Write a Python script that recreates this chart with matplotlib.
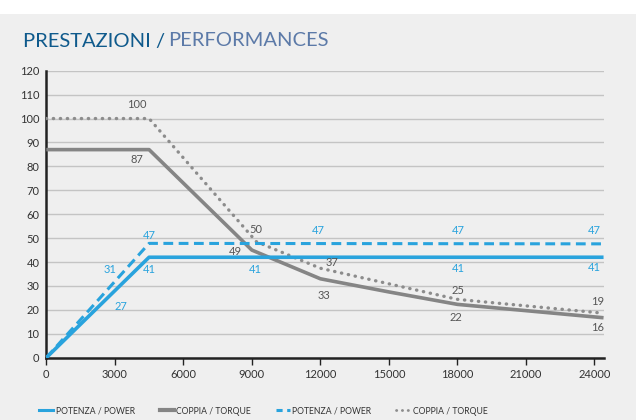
import matplotlib.pyplot as plt
from matplotlib.lines import Line2D
from matplotlib.patches import Rectangle

BLUE = "#29a3dd"
GREY = "#858585"
BG = "#efefef"

# curves (rpm, value)
power_x = [0, 4500, 24400]
power_y = [0, 42, 42]
torque_x = [0, 4500, 9000, 12000, 15000, 18000, 24400]
torque_y = [87, 87, 45, 33, 27.5, 22.3, 16.7]
power2_x = [0, 4500, 24400]
power2_y = [0, 47.8, 47.6]
torque2_x = [0, 4500, 9200, 12000, 18000, 24400]
torque2_y = [100, 100, 48.5, 37.4, 24.4, 18.6]

# value labels: (x, y, text, colour)
labels = [
    (3970, 105.7, "100", "g"), (3970, 82.7, "87", "g"),
    (4500, 51.3, "47", "b"), (2790, 36.7, "31", "b"),
    (4500, 36.7, "41", "b"), (3270, 21.6, "27", "b"),
    (9180, 53.4, "50", "g"), (8260, 44.6, "49", "g"),
    (9140, 37.0, "41", "b"), (11900, 53.0, "47", "b"),
    (12500, 39.6, "37", "g"), (12160, 26.2, "33", "g"),
    (18030, 53.0, "47", "b"), (18030, 37.5, "41", "b"),
    (18030, 28.3, "25", "g"), (17950, 17.0, "22", "g"),
    (24000, 53.0, "47", "b"), (24000, 37.8, "41", "b"),
    (24130, 23.3, "19", "g"), (24130, 12.5, "16", "g"),
]

legend_labels = ["POTENZA / POWER", "COPPIA / TORQUE", "POTENZA / POWER", "COPPIA / TORQUE"]

plt.rcParams["font.family"] = ["Lato", "DejaVu Sans"]

fig = plt.figure(figsize=(6.36, 4.2), dpi=100)
fig.patch.set_facecolor(BG)
fig.patches.append(Rectangle((0, 1 - 14 / 420), 1, 14 / 420, transform=fig.transFigure,
                             facecolor="white", edgecolor="none", zorder=0))

ax = fig.add_axes([46.3 / 636, 1 - 357.7 / 420, (604 - 46.3) / 636, (357.7 - 70.7) / 420])
ax.set_facecolor(BG)

ax.plot(power_x, power_y, color=BLUE, lw=2.6, solid_capstyle="butt", zorder=4)
ax.plot(torque_x, torque_y, color=GREY, lw=2.6, solid_capstyle="butt", zorder=3)
ax.plot(power2_x, power2_y, color=BLUE, lw=2.2, dashes=(3.2, 1.8), zorder=4)
ax.plot(torque2_x, torque2_y, color="#8c8c8c", lw=2.4, linestyle=(0, (0.1, 2.0)),
        dash_capstyle="round", zorder=3)

for x, y, t, c in labels:
    ax.text(x, y, t, ha="center", va="center", fontsize=8,
            color=BLUE if c == "b" else "#555555", zorder=5)

ax.set_xlim(0, 24420)
ax.set_ylim(0, 120)
ax.set_xticks(range(0, 24001, 3000))
ax.set_yticks(range(0, 121, 10))
ax.grid(axis="y", color="#c4c4c4", lw=1)
ax.set_axisbelow(True)
for s in ["top", "right"]:
    ax.spines[s].set_visible(False)
for s in ["left", "bottom"]:
    ax.spines[s].set_color("#222222")
    ax.spines[s].set_linewidth(1.8)
ax.tick_params(axis="x", length=5, width=1, color="#222222", labelsize=8, labelcolor="#333333", pad=3)
ax.tick_params(axis="y", length=0, labelsize=8, labelcolor="#333333", pad=5)

fig.text(23 / 636, 1 - 41 / 420, "PRESTAZIONI /", color="#0f5a8c", fontsize=14.5, va="center")
fig.text(168 / 636, 1 - 41 / 420, "PERFORMANCES", color="#5c7aa8", fontsize=14.5, va="center")

handles = [
    Line2D([], [], color=BLUE, lw=2.2),
    Line2D([], [], color=GREY, lw=3),
    Line2D([], [], color=BLUE, lw=2.2, dashes=(2, 1.5)),
    Line2D([], [], color="#8c8c8c", lw=2, linestyle=(0, (0.1, 2)), dash_capstyle="round"),
]
fig.legend(handles, legend_labels, loc="center left", bbox_to_anchor=(36 / 636, 1 - 411 / 420),
           ncol=4, frameon=False, fontsize=6.2, handlelength=1.6, handletextpad=0.3,
           columnspacing=2.9, labelcolor="#333333", borderaxespad=0)

fig.savefig("out.png", dpi=100, facecolor=BG)
